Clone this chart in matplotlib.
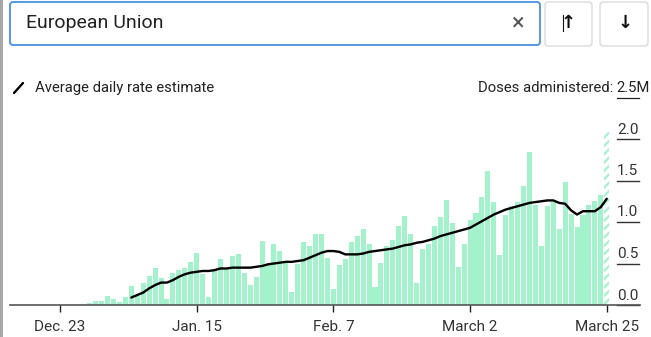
import matplotlib
matplotlib.use('Agg')
import matplotlib.pyplot as plt
import matplotlib.transforms as mtransforms
from matplotlib.patches import FancyBboxPatch, Rectangle
from matplotlib.lines import Line2D

# ---------------- data ----------------
# days counted from Dec. 23 (day 0)
first_bar_day = 5
daily_doses = [0.03, 0.05, 0.05, 0.11, 0.07, 0.04, 0.10, 0.23, 0.11, 0.26,
               0.35, 0.45, 0.32, 0.07, 0.38, 0.42, 0.45, 0.52, 0.63, 0.37,
               0.10, 0.42, 0.56, 0.44, 0.59, 0.62, 0.38, 0.24, 0.34, 0.77,
               0.50, 0.73, 0.65, 0.52, 0.16, 0.49, 0.76, 0.71, 0.86, 0.86,
               0.57, 0.19, 0.48, 0.55, 0.76, 0.83, 0.91, 0.74, 0.22, 0.51,
               0.71, 0.78, 0.95, 1.07, 0.86, 0.27, 0.68, 0.74, 0.95, 1.06,
               1.27, 0.99, 0.46, 0.74, 1.02, 1.11, 1.30, 1.62, 1.24, 0.60,
               1.08, 1.19, 1.24, 1.43, 1.84, 1.20, 0.71, 1.19, 1.24, 0.92,
               1.48, 1.10, 0.94, 1.08, 1.20, 1.25, 1.32, 2.09]
avg_start_day = 12
avg_rate = [0.09, 0.12, 0.15, 0.20, 0.24, 0.27, 0.27, 0.30, 0.34, 0.37,
            0.39, 0.40, 0.41, 0.41, 0.42, 0.44, 0.44, 0.45, 0.45, 0.45,
            0.45, 0.46, 0.47, 0.49, 0.50, 0.51, 0.52, 0.52, 0.53, 0.54,
            0.57, 0.60, 0.63, 0.65, 0.65, 0.64, 0.61, 0.61, 0.61, 0.62,
            0.64, 0.65, 0.66, 0.67, 0.68, 0.70, 0.72, 0.73, 0.75, 0.76,
            0.78, 0.80, 0.83, 0.85, 0.87, 0.89, 0.91, 0.93, 0.97, 1.01,
            1.05, 1.09, 1.12, 1.15, 1.17, 1.19, 1.21, 1.23, 1.24, 1.25,
            1.26, 1.26, 1.23, 1.22, 1.14, 1.09, 1.13, 1.13, 1.13, 1.18,
            1.28]
tick_days = [0, 23, 46, 69, 92]
tick_labels = ['Dec. 23', 'Jan. 15', 'Feb. 7', 'March 2', 'March 25']
y_ticks = [0.0, 0.5, 1.0, 1.5, 2.0]
y_tick_labels = ['0.0', '0.5', '1.0', '1.5', '2.0']

# ---------------- style ----------------
W, H = 651, 337
MINT = '#a4f2cc'
plt.rcParams['font.family'] = ['Roboto', 'DejaVu Sans']
plt.rcParams['hatch.linewidth'] = 1.6

fig = plt.figure(figsize=(W / 100, H / 100), dpi=100)
fig.patch.set_facecolor('white')
ident = mtransforms.IdentityTransform()


def fx(x):
    return x / W


def fy(y):
    return 1 - y / H


# left grey stripe
fig.add_artist(Rectangle((0, 0), 3, H, transform=ident, fc='#a8a8a8', ec='none'))

# search box
fig.add_artist(FancyBboxPatch((10, H - 45), 530, 43, boxstyle='round,pad=0,rounding_size=3',
                              transform=ident, fc='white', ec='#4a90e2', lw=1.3))
fig.text(fx(26), fy(23), 'European Union', fontsize=14, va='center', ha='left', color='#222222')
fig.text(fx(518), fy(23), '\u00d7', fontsize=17, va='center', ha='center', color='#555555')

# buttons
for bx, bw in [(545, 47), (600, 48)]:
    fig.add_artist(FancyBboxPatch((bx, H - 46), bw, 44, boxstyle='round,pad=0,rounding_size=3',
                                  transform=ident, fc='white', ec='#dcdcdc', lw=1.0))
fig.text(fx(568.5), fy(23), '\u2191', fontsize=13, fontweight='bold', va='center', ha='center',
         color='#111111', family=['DejaVu Sans'])
fig.add_artist(Line2D([563, 563], [H - 15, H - 31], transform=ident, color='#111111', lw=0.8))
fig.text(fx(625), fy(23), '\u2193', fontsize=13, fontweight='bold', va='center', ha='center',
         color='#111111', family=['DejaVu Sans'])

# legend
fig.add_artist(Line2D([14, 23], [H - 93, H - 83], transform=ident, color='black', lw=1.7,
                      solid_capstyle='round'))
fig.text(fx(35), fy(88), 'Average daily rate estimate', fontsize=10.7, va='center', ha='left',
         color='#222222')
t_val = fig.text(fx(650), fy(88), '2.5M', fontsize=10.7, va='center', ha='right', color='#222222')
fig.canvas.draw()
bb = t_val.get_window_extent()
fig.text(bb.x0 / W, fy(88), 'Doses administered: ', fontsize=10.7, va='center', ha='right',
         color='#222222')
fig.add_artist(Line2D([bb.x0, bb.x1 - 11], [H - 98, H - 98], transform=ident, color='#222222', lw=0.9))

# ---------------- chart ----------------
px_per_day = 5.943
day0_px = 60.0
ax_left_px, ax_right_px = 10, 640
base_px, top_px = 305, 125
px_per_unit = 83.0

ax = fig.add_axes([fx(ax_left_px), (H - base_px) / H, (ax_right_px - ax_left_px) / W,
                   (base_px - top_px) / H])
ax.set_xlim((ax_left_px - day0_px) / px_per_day, (ax_right_px - day0_px) / px_per_day)
ax.set_ylim(0, (base_px - top_px) / px_per_unit)
ax.set_facecolor('none')

days = list(range(first_bar_day, first_bar_day + len(daily_doses)))
ax.bar(days[:-1], daily_doses[:-1], width=0.85, color=MINT, linewidth=0, zorder=2)
ax.bar(days[-1:], daily_doses[-1:], width=0.85, facecolor='white', edgecolor=MINT,
       hatch='////', linewidth=0, zorder=2)

avg_days = list(range(avg_start_day, avg_start_day + len(avg_rate)))
ax.plot(avg_days, avg_rate, color='black', lw=1.7, solid_capstyle='round',
        solid_joinstyle='round', zorder=3)

for s in ['top', 'left', 'right']:
    ax.spines[s].set_visible(False)
ax.spines['bottom'].set_color('#555555')
ax.spines['bottom'].set_linewidth(1.2)
ax.set_yticks([])
ax.set_xticks(tick_days)
ax.set_xticklabels(tick_labels)
ax.tick_params(axis='x', length=5, width=1, color='#222222', pad=6, labelsize=11,
               labelcolor='#333333')

ytrans = ax.get_yaxis_transform()
lab_x0 = (617 - ax_left_px) / (ax_right_px - ax_left_px)
lab_x1 = (639 - ax_left_px) / (ax_right_px - ax_left_px)
toff = mtransforms.offset_copy(ytrans, fig=fig, y=2.5, units='dots')
for v, lab in zip(y_ticks, y_tick_labels):
    ax.text(lab_x0, v, lab, transform=toff, fontsize=11, color='#333333', va='bottom',
            ha='left', clip_on=False)
    ax.plot([lab_x0, lab_x1], [v, v], transform=ytrans, color='#333333', lw=1.0, clip_on=False)

fig.savefig('out.png', dpi=100, facecolor='white')
